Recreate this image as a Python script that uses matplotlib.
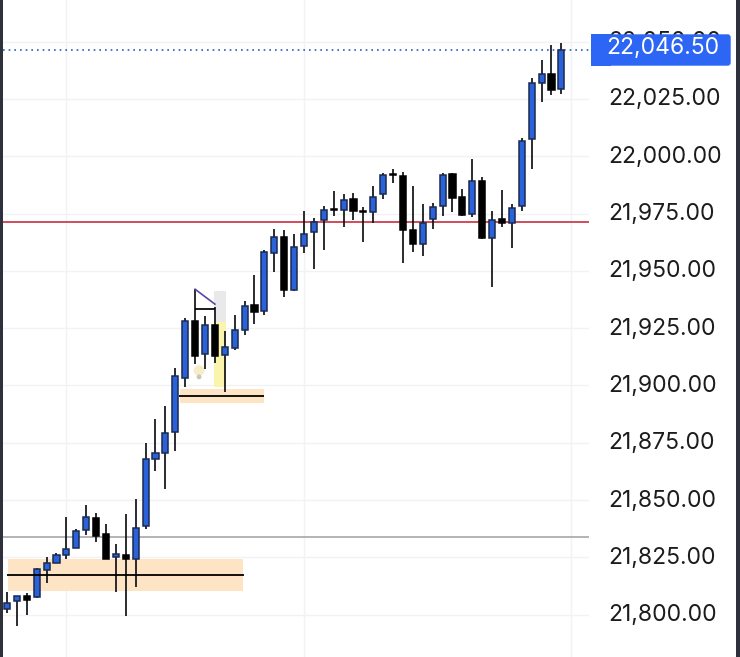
import matplotlib
matplotlib.use("Agg")
import matplotlib.pyplot as plt
from matplotlib.patches import FancyBboxPatch, Rectangle
from matplotlib.transforms import IdentityTransform, ScaledTranslation

# candles, oldest first
opens = [21802.5, 21806, 21808.25, 21807.5, 21819.5, 21822.75, 21826, 21829, 21837, 21842,
         21835.25, 21825, 21826.25, 21824.5, 21838.75, 21867.75, 21870.75, 21879.75, 21903.25, 21928.25,
         21913.75, 21926.5, 21913.5, 21916.5, 21924.25, 21935, 21932.5, 21958, 21964.75, 21941.75,
         21960.75, 21967, 21972.25, 21977, 21976.75, 21981.25, 21976, 21975.5, 21983.5, 21992.25,
         21991.5, 21968, 21961.75, 21972.5, 21978.5, 21992.25, 21982.25, 21974.75, 21989.25, 21964.25,
         21972.5, 21971, 21978.25, 22007.5, 22032, 22036, 22029.5]
highs = [21810, 21808.25, 21809.25, 21820.25, 21825, 21827, 21842.75, 21837.25, 21847.75, 21844.25,
         21839.75, 21830.75, 21844, 21850.5, 21874.75, 21885.5, 21891, 21907.5, 21929.25, 21942,
         21930.5, 21934.25, 21923.75, 21930.75, 21936.75, 21948.25, 21959, 21968.25, 21967.75, 21966,
         21976, 21973, 21978.5, 21984.75, 21983.75, 21984, 21978, 21987, 21992.75, 21994.5,
         21993.25, 21987, 21979, 21979.5, 21992.5, 21992.5, 21985.75, 21999, 21991, 21976.25,
         21985.5, 21979.25, 22008, 22034, 22042, 22048.5, 22049.5]
lows = [21800.75, 21795, 21800, 21807.25, 21814, 21822.5, 21824.25, 21829, 21834.75, 21831.5,
        21824.25, 21810, 21799.5, 21812, 21837.5, 21862.75, 21854.75, 21871.5, 21899.5, 21909.25,
        21907, 21910, 21897.25, 21915.5, 21922, 21926.75, 21930.75, 21949.5, 21938.75, 21941.25,
        21958, 21951, 21959, 21973.75, 21969.25, 21972.25, 21962.5, 21970.75, 21981.25, 21988.25,
        21953.25, 21958.25, 21956.5, 21968.25, 21973.75, 21975.75, 21974, 21973.5, 21964, 21943,
        21969, 21960, 21976, 21994.5, 22023.5, 22026.75, 22027.25]
closes = [21805.25, 21808, 21806.25, 21819.75, 21822.5, 21826, 21828.75, 21836.5, 21842.5, 21834.5,
          21824.25, 21826.5, 21824.5, 21838, 21868, 21870.5, 21879.25, 21904, 21928.25, 21913,
          21926.25, 21912.75, 21916.75, 21924, 21934.75, 21932.25, 21958.25, 21964.75, 21941.75, 21960.5,
          21966.25, 21971.5, 21976.75, 21976.5, 21980.75, 21976, 21975.5, 21982.25, 21991.75, 21991.75,
          21967.75, 21961.75, 21970.75, 21978, 21991.75, 21982, 21974.5, 21989.25, 21964.5, 21972.25,
          21970.75, 21977.5, 22006.75, 22032, 22036, 22029, 22046.5]

price_ticks = [21800, 21825, 21850, 21875, 21900, 21925, 21950, 21975, 22000, 22025, 22050]
time_grid = [6, 30, 57]

red_level = 21971.25
gray_level = 21833.75

BLUE = "#2a62dc"
EDGE = "#1b2a4e"
TAG = "#2d66f5"
W, H = 740, 657

fig = plt.figure(figsize=(W / 100, H / 100), dpi=100, facecolor="white")
ax = fig.add_axes([3 / W, 0, (589 - 3) / W, 1])
ax.set_xlim(-0.404, 58.79)
ax.set_ylim(21781.54, 22068.19)
for s in ax.spines.values():
    s.set_visible(False)

ax.set_xticks(time_grid)
ax.set_yticks(price_ticks)
ax.set_yticklabels([f"{p:,.2f}" for p in price_ticks], family="Inter", fontsize=16.5, color="#1c1c1f")
ax.yaxis.tick_right()
ax.tick_params(axis="both", length=0, labelbottom=False, pad=13.5)
ax.grid(color="#f1f2f4", lw=1.0)
ax.set_axisbelow(True)
# labels sit a little above their grid lines
up = ScaledTranslation(0, 1.5 / 72, fig.dpi_scale_trans)
for lab in ax.get_yticklabels():
    lab.set_transform(lab.get_transform() + up)

# zones
ax.add_patch(Rectangle((0.1, 21810.5), 23.74, 14, fc="#fce4c4", ec="none", zorder=1))
ax.add_patch(Rectangle((17.5, 21892.25), 8.46, 6.25, fc="#fce4c4", ec="none", zorder=1))
ax.add_patch(Rectangle((20.9, 21899.25), 1.2, 28.5, fc="#fbf4ac", ec="none", zorder=1))
ax.add_patch(Rectangle((20.9, 21927.75), 1.2, 13.6, fc="#e9e9ec", ec="none", zorder=1))

# levels
ax.axhline(red_level, color="#c92f40", lw=1.2, zorder=2)
ax.axhline(gray_level, color="#a3a3a6", lw=1.15, zorder=2)
ax.axhline(closes[-1], color="#2a5cc4", lw=1.2, ls=(0, (1, 2.4)), zorder=2)

# candles
x = list(range(len(opens)))
ax.vlines(x, lows, highs, color="#101216", lw=1.25, zorder=3)
for i in x:
    up_bar = closes[i] >= opens[i]
    ax.bar(i, abs(closes[i] - opens[i]), bottom=min(opens[i], closes[i]), width=0.62,
           color=BLUE if up_bar else "black", edgecolor=EDGE if up_bar else "black",
           linewidth=1.1, zorder=4)

# drawings on top of the candles
ax.plot([0, 23.94], [21817.5, 21817.5], color="black", lw=1.3, solid_capstyle="butt", zorder=5)
ax.plot([17.4, 25.97], [21895.5, 21895.5], color="black", lw=1.3, solid_capstyle="butt", zorder=5)
ax.plot([19, 21], [21933.5, 21933.5], color="black", lw=1.25, solid_capstyle="butt", zorder=5)
ax.plot([19, 21], [21942, 21935.5], color="#5b43ad", lw=1.2, zorder=5)
ax.scatter([19.4], [21906.5], s=60, color="#f7ecc8", edgecolors="none", zorder=2.5)
ax.scatter([19.4], [21903.75], s=12, color="#c8c5bb", edgecolors="none", zorder=2.6)

# frame strips left and right
fig.add_artist(Rectangle((0, 0), 3 / W, 1, transform=fig.transFigure, fc="#2e303c", ec="none"))
fig.add_artist(Rectangle((736 / W, 0), 4 / W, 1, transform=fig.transFigure, fc="#2e303c", ec="none"))

# last price tag, square on the left, rounded on the right
fig.add_artist(Rectangle((591, H - 65.7), 20, 31.4, transform=IdentityTransform(), fc=TAG, ec="none"))
fig.add_artist(FancyBboxPatch((595, H - 65.7), 135.7, 31.4, transform=IdentityTransform(),
                              boxstyle="round,pad=0,rounding_size=3", mutation_scale=1, fc=TAG, ec="none"))
fig.text(663, H - 48.5, f"{closes[-1]:,.2f}", transform=IdentityTransform(), family="Inter", fontsize=16.5,
         color="white", ha="center", va="center")

fig.savefig("out.png", dpi=100)
